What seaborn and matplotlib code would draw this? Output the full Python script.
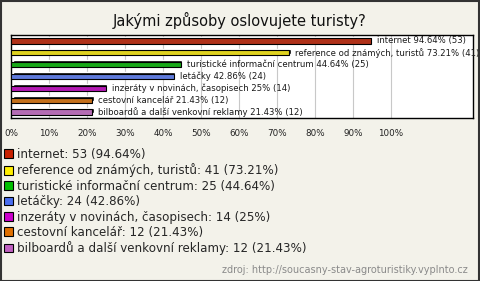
import pandas as pd
import seaborn as sns
import matplotlib.pyplot as plt
import matplotlib.transforms as mtransforms
from matplotlib.patches import Patch, Rectangle

# data
categories = [
    "internet",
    "reference od známých, turistů",
    "turistické informační centrum",
    "letáčky",
    "inzeráty v novinách, časopisech",
    "cestovní kancelář",
    "bilboardů a další venkovní reklamy",
]
counts = [53, 41, 25, 24, 14, 12, 12]
percents = [94.64, 73.21, 44.64, 42.86, 25, 21.43, 21.43]
pct_labels = ["94.64%", "73.21%", "44.64%", "42.86%", "25%", "21.43%", "21.43%"]
colors = ["#c82000", "#ffee00", "#00c000", "#4a6ef0", "#cc00cc", "#e07000", "#c060c0"]
ticks = list(range(0, 101, 10))

BG = "#f3f2ea"

df = pd.DataFrame({"cat": categories, "pct": percents, "n": counts})

sns.set_style("white")
plt.rcParams["font.family"] = ["DejaVu Sans"]

fig = plt.figure(figsize=(4.8, 2.81), dpi=100, facecolor=BG)
ax = fig.add_axes([11 / 480, 1 - 118 / 281, 462 / 480, 83 / 281])
ax.set_facecolor("white")

# 3d-ish shadow behind every bar
shadow = mtransforms.offset_copy(ax.transData, fig=fig, x=1.5, y=1.5, units="dots")
ax.barh(range(len(categories)), percents, height=0.45, color="black",
        transform=shadow, zorder=2)

sns.barplot(data=df, y="cat", x="pct", hue="cat", palette=colors, legend=False,
            orient="h", width=0.45, edgecolor="black", linewidth=0.8, ax=ax, zorder=3)

for i, (c, p, n) in enumerate(zip(categories, pct_labels, counts)):
    ax.text(percents[i] + 1.6, i, f"{c} {p} ({n})", va="center", ha="left",
            fontsize=6.1, color="#1a1a1a", clip_on=False, zorder=4)

ax.set_xlim(0, 121.6)
ax.set_ylim(6.5, -0.5)
ax.set_xticks(ticks)
ax.set_xticklabels([f"{t}%" for t in ticks], fontsize=6.3, color="#222222")
ax.tick_params(axis="x", length=0, pad=8)
ax.set_yticks([])
ax.set_xlabel("")
ax.set_ylabel("")
for t in ticks[1:]:
    ax.axvline(t, color="#c8c8c8", linewidth=0.8, zorder=1)
for s in ax.spines.values():
    s.set_color("black")
    s.set_linewidth(1)

fig.text(0.5, 1 - 20 / 281, "Jakými způsoby oslovujete turisty?", ha="center", va="center",
         fontsize=10.5, color="#111111")

handles = [Patch(facecolor=col, edgecolor="black", linewidth=0.8) for col in colors]
labels = [f"{c}: {n} ({p})" for c, n, p in zip(categories, counts, pct_labels)]
fig.legend(handles, labels, loc="upper left", bbox_to_anchor=(4 / 480, 1 - 148 / 281),
           frameon=False, fontsize=8.6, handlelength=0.75, handleheight=0.75,
           handletextpad=0.3, labelspacing=0.2, borderaxespad=0, borderpad=0)

fig.text(1 - 12 / 480, 1 - 270 / 281, "zdroj: http://soucasny-stav-agroturistiky.vyplnto.cz",
         ha="right", va="center", fontsize=7, color="#8a8a8a")

fig.add_artist(Rectangle((0.5 / 480, 0.5 / 281), 478.5 / 480, 279.5 / 281,
                         transform=fig.transFigure, fill=False,
                         edgecolor="#333333", linewidth=1.5))

fig.savefig("out.png", dpi=100, facecolor=BG)
